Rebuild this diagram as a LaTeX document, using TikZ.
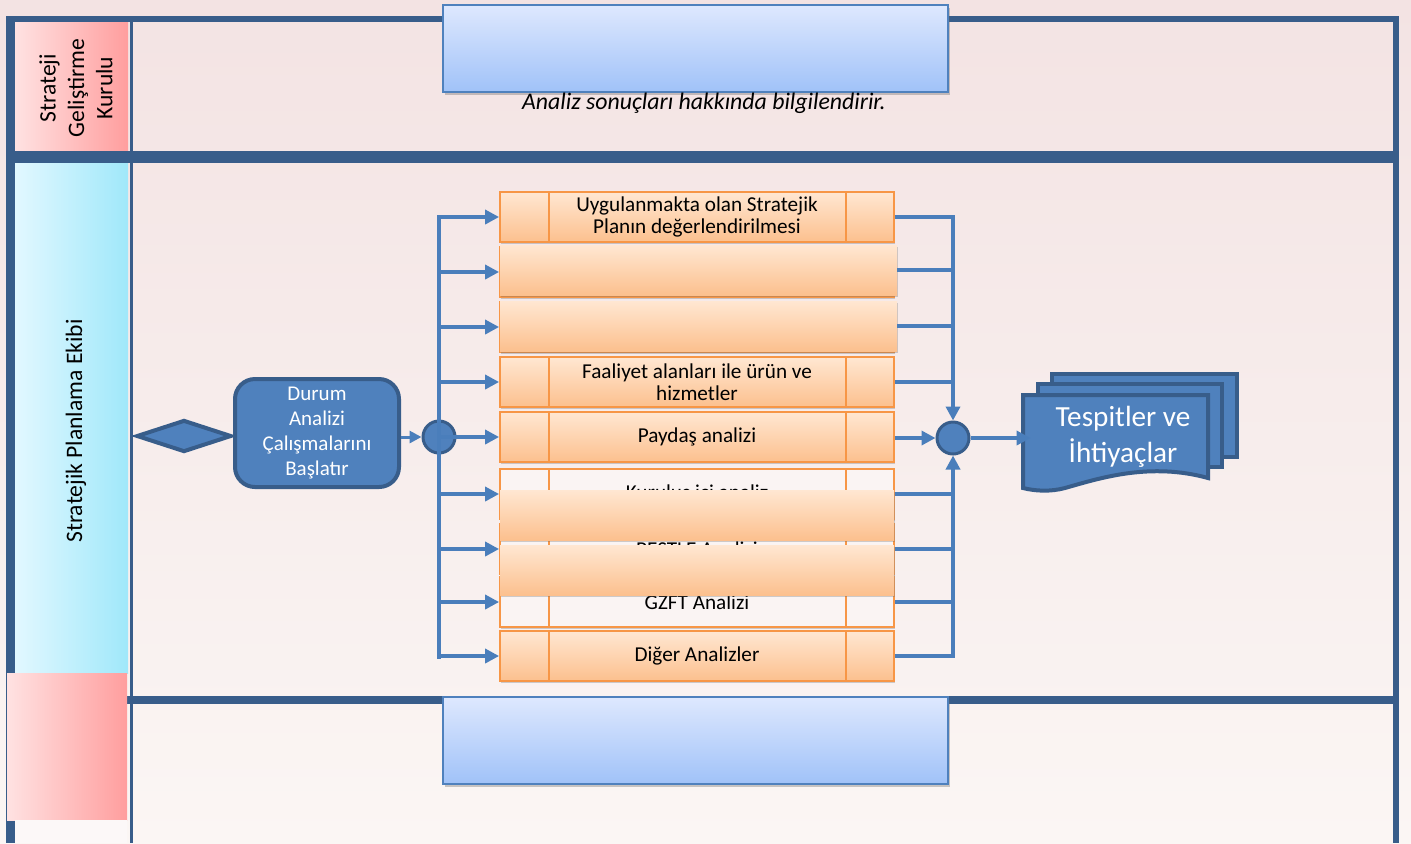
\documentclass[tikz,border=0pt]{standalone}
\usepackage{fontspec}
\setmainfont{Carlito}
\usetikzlibrary{arrows.meta,shadows,calc,shapes.geometric}
\definecolor{framec}{RGB}{56,93,138}
\definecolor{arrc}{RGB}{74,126,187}
\definecolor{nodef}{RGB}{79,129,189}
\definecolor{orb}{RGB}{247,150,70}
\definecolor{or1}{RGB}{255,231,210}
\definecolor{or2}{RGB}{252,192,142}
\definecolor{bl1}{RGB}{222,232,254}
\definecolor{bl2}{RGB}{160,194,248}
\definecolor{bgtop}{RGB}{243,227,227}
\definecolor{bgbot}{RGB}{251,246,244}
\definecolor{pk1}{RGB}{255,226,226}
\definecolor{pk2}{RGB}{255,158,158}
\definecolor{cy1}{RGB}{226,248,255}
\definecolor{cy2}{RGB}{160,232,250}
\definecolor{rowwhite}{RGB}{250,244,243}
\begin{document}
\begin{tikzpicture}[x=0.5pt,y=-0.5pt,
  bluebox/.style={draw=nodef,line width=1pt,top color=bl1,bottom color=bl2,minimum width=252.5pt,minimum height=43.5pt,inner sep=0pt,drop shadow={shadow xshift=1pt,shadow yshift=-1.5pt,opacity=0.35,fill=black!60}},
  rowbox/.style={draw=orb,line width=0.9pt,top color=or1,bottom color=or2,minimum width=197pt,minimum height=25pt,inner sep=0pt,align=center,font=\fontsize{10.6}{11.2}\selectfont,drop shadow={shadow xshift=0.5pt,shadow yshift=-1.2pt,opacity=0.3,fill=black!60}},
  rowplain/.style={rowbox,top color=rowwhite,bottom color=rowwhite},
  overlay/.style={top color=or1,bottom color=or2,minimum height=25pt,inner sep=0pt,drop shadow={shadow xshift=0.5pt,shadow yshift=-1.2pt,opacity=0.3,fill=black!60}},
  conn/.style={draw=arrc,line width=2pt},
  arrow/.style={conn,-{Triangle[length=7pt,width=7pt]}},
  thinarrow/.style={draw=arrc,line width=1.5pt,-{Triangle[length=6pt,width=6pt]}},
  junction/.style={circle,draw=framec,line width=1.5pt,fill=nodef,minimum size=16pt,inner sep=0pt},
  lanelabel/.style={rotate=90,align=center,font=\fontsize{11.8}{14.2}\selectfont},
  innerline/.style={draw=orb,line width=0.8pt}
]
\useasboundingbox (0,0) rectangle (1411,843);
% background
\shade[top color=bgtop,bottom color=bgbot] (0,0) rectangle (1411,843);
% lane headers
\shade[left color=pk1,right color=pk2] (15,22) rectangle (128,151);
\shade[left color=cy1,right color=cy2] (15,163) rectangle (128,673);
% frame
\fill[framec] (6,16) rectangle (1399,22);
\fill[framec] (6,16) rectangle (15,843);
\fill[framec] (1393,16) rectangle (1399,843);
\fill[framec] (6,151) rectangle (1399,163);
\fill[framec] (127,696) rectangle (1399,704);
\fill[framec] (130,22) rectangle (132.5,843);
% lower left header
\shade[left color=pk1,right color=pk2] (7,673) rectangle (127,820);
\fill[rowwhite!60!white] (15,820) rectangle (127,843);
% lane labels
\node[lanelabel] (lane1) at (76,88) {Strateji\\Geliştirme\\Kurulu};
\node[lanelabel] (lane2) at (76,431) {Stratejik Planlama Ekibi};
% blue boxes
\node[bluebox] (topbox) at (695.5,48.5) {};
\node[bluebox] (botbox) at (695.5,740.5) {};
\node[font=\fontsize{11.9}{13}\selectfont\itshape] (info) at (704,103) {Analiz sonuçları hakkında bilgilendirir.};
% junctions
\node[junction] (lc) at (439,437) {};
\node[junction] (rc) at (953,438) {};
% left trunk
\draw[conn,line cap=rect] (439,217) -- (439,657);
% rows
\node[rowbox] (r1) at (697,217) {Uygulanmakta olan Stratejik\\Planın değerlendirilmesi};
\node[rowbox] (r2) at (697,272) {};
\node[rowbox] (r3) at (697,327) {};
\node[rowbox] (r4) at (697,382) {Faaliyet alanları ile ürün ve\\hizmetler};
\node[rowbox] (r5) at (697,437) {Paydaş analizi};
\node[rowplain] (r6) at (697,494) {Kuruluş içi analiz};
\node[rowplain] (r7) at (697,549) {PESTLE Analizi};
\node[rowplain] (r8) at (697,602) {GZFT Analizi};
\node[rowbox] (r9) at (697,656) {Diğer Analizler};
\foreach \r in {r1,r2,r3,r4,r5,r6,r7,r8,r9}{
  \draw[innerline] ([xshift=25pt]\r.north west) -- ([xshift=25pt]\r.south west);
  \draw[innerline] ([xshift=-24.5pt]\r.north east) -- ([xshift=-24.5pt]\r.south east);
}
% overlays
\node[overlay,minimum width=198.5pt] (o2) at (698.5,270) {};
\node[overlay,minimum width=198.5pt] (o3) at (698.5,326) {};
\node[overlay,minimum width=197pt] (o6) at (697,515) {};
\node[overlay,minimum width=197pt] (o7) at (697,570) {};
% left arrows
\foreach \r in {r1,r2,r3,r4,r5,r6,r7,r8,r9}{
  \draw[arrow] (lc |- \r) -- (\r.west);
}
% right connectors
\draw[arrow] (r1.east) -- (r1.east -| rc) -- (rc.north);
\draw[arrow] (r9.east) -- (r9.east -| rc) -- (rc.south);
\draw[conn] (o2.east) -- (o2.east -| rc);
\draw[conn] (o3.east) -- (o3.east -| rc);
\foreach \r in {r4,r6,r7,r8}{
  \draw[conn] (\r.east) -- (\r.east -| rc);
}
\draw[arrow] (r5.east |- rc) -- (rc.west);
% start diamond and task
\node[diamond,draw=framec,line width=2pt,fill=nodef,minimum width=47.5pt,minimum height=16pt,inner sep=0pt] (start) at (184,436) {};
\node[rounded corners=10pt,draw=framec,line width=2pt,fill=nodef,minimum width=82pt,minimum height=54pt,text=white,align=center,font=\fontsize{10.5}{12.6}\selectfont] (durum) at (317,433) {Durum\\Analizi\\Çalışmalarını\\Başlatır};
\draw[thinarrow] (durum.east |- lc) -- (lc.west);
% documents
\draw[framec,line width=2pt,fill=nodef] (1052,374) rectangle (1237,457);
\draw[framec,line width=2pt,fill=nodef] (1038,384) rectangle (1222,467);
\draw[framec,line width=2pt,fill=nodef] (1023,395) -- (1208,395) -- (1208,478) .. controls (1150,462) and (1100,478) .. (1065,488) .. controls (1050,492) and (1035,491) .. (1023,488) -- cycle;
\node[text=white,align=center,font=\fontsize{14.6}{18}\selectfont,minimum width=92pt,inner sep=0pt] (doc) at (1123,437) {Tespitler ve\\İhtiyaçlar};
\draw[arrow] (rc.east) -- (rc.east -| doc.west);
\end{tikzpicture}
\end{document}
